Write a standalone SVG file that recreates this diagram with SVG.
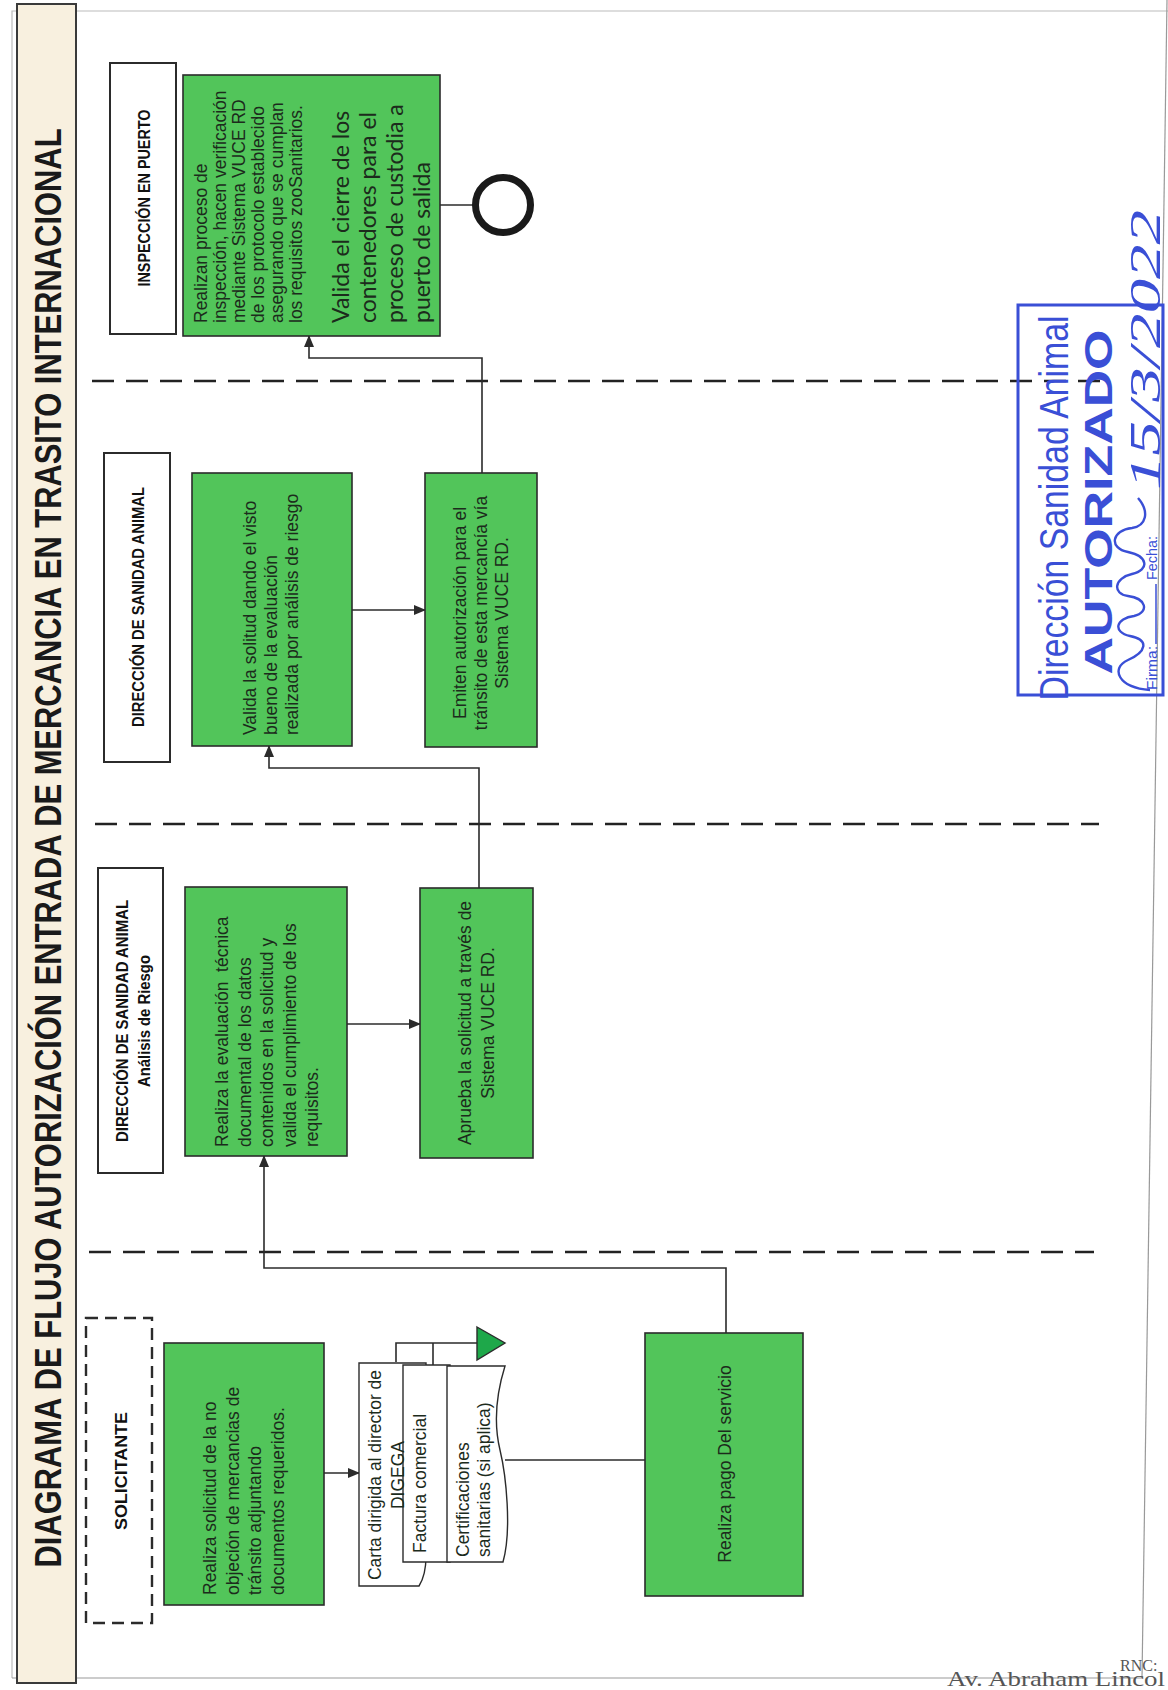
<svg xmlns="http://www.w3.org/2000/svg" width="1168" height="1690" viewBox="0 0 1168 1690">
<defs>
<style>
.box{fill:#52c55a;stroke:#2b2b2b;stroke-width:1.6}
.hdr{fill:#fff;stroke:#2b2b2b;stroke-width:2}
.t{font-family:"Liberation Sans",Arial,sans-serif;font-size:17.5px;fill:#1c2b1c}
.tl{font-family:Lato,"Liberation Sans",sans-serif;font-size:23px;fill:#1c2b1c}
.h{font-family:"Liberation Sans",Arial,sans-serif;font-weight:bold;font-size:17px;fill:#111}
.lane{stroke:#222;stroke-width:2.6;stroke-dasharray:22 12;fill:none}
.c{stroke:#2b2b2b;stroke-width:1.6;fill:none}
.doc{fill:#fff;stroke:#2b2b2b;stroke-width:1.4}
.st{fill:#3a4fd6;font-family:"Liberation Sans",Arial,sans-serif}
</style>
<marker id="ar" viewBox="0 0 12 10" refX="11" refY="5" markerWidth="12" markerHeight="10" markerUnits="userSpaceOnUse" orient="auto">
<path d="M0,0 L12,5 L0,10 Z" fill="#2b2b2b"/>
</marker>
</defs>
<rect width="1168" height="1690" fill="#fff"/>
<!-- page border -->
<polyline points="12,1678 12,11 1168,11" fill="none" stroke="#bbb" stroke-width="1.2"/>
<line x1="1167" y1="0" x2="1142" y2="1678" stroke="#999" stroke-width="1.2"/>
<line x1="12" y1="1678" x2="1142" y2="1678" stroke="#999" stroke-width="1.2"/>

<!-- title bar -->
<g id="title">
<rect x="17" y="4" width="59" height="1679" fill="#f8f0df" stroke="#3a3a3a" stroke-width="2"/>
<text transform="translate(61,848) rotate(-90) scale(1,1.35)" text-anchor="middle" font-family="'Liberation Sans',Arial,sans-serif" font-weight="bold" font-size="27.5" fill="#1a1a1a" textLength="1439" lengthAdjust="spacingAndGlyphs">DIAGRAMA DE FLUJO AUTORIZACIÓN ENTRADA DE MERCANCIA EN TRASITO INTERNACIONAL</text>
</g>

<!-- lane dividers -->
<g id="lanes">
<line class="lane" x1="92" y1="381" x2="1110" y2="381"/>
<line class="lane" x1="95" y1="824" x2="1099" y2="824"/>
<line class="lane" x1="89" y1="1252" x2="1094" y2="1252"/>
</g>

<!-- lane headers -->
<g id="hdr-inspeccion">
<rect class="hdr" x="110" y="63" width="66" height="271"/>
<text class="h" transform="translate(150,198) rotate(-90)" text-anchor="middle" textLength="177" lengthAdjust="spacingAndGlyphs">INSPECCIÓN EN PUERTO</text>
</g>
<g id="hdr-dsa">
<rect class="hdr" x="104" y="453" width="66" height="309"/>
<text class="h" transform="translate(144,607) rotate(-90)" text-anchor="middle" textLength="240" lengthAdjust="spacingAndGlyphs">DIRECCIÓN DE SANIDAD ANIMAL</text>
</g>
<g id="hdr-riesgo">
<rect class="hdr" x="98" y="868" width="65" height="305"/>
<text class="h" transform="translate(128,1021) rotate(-90)" text-anchor="middle" textLength="242" lengthAdjust="spacingAndGlyphs">DIRECCIÓN DE SANIDAD ANIMAL</text>
<text class="h" transform="translate(150,1021) rotate(-90)" text-anchor="middle" textLength="132" lengthAdjust="spacingAndGlyphs">Análisis de Riesgo</text>
</g>
<g id="hdr-solicitante">
<rect x="86" y="1318" width="66" height="305" fill="#fff" stroke="#2b2b2b" stroke-width="2.4" stroke-dasharray="12 7"/>
<text class="h" transform="translate(127,1471) rotate(-90)" text-anchor="middle" textLength="118" lengthAdjust="spacingAndGlyphs">SOLICITANTE</text>
</g>

<!-- connectors -->
<g id="connectors">
<line class="c" x1="324" y1="1473" x2="359" y2="1473" marker-end="url(#ar)"/>
<line class="c" x1="505" y1="1460" x2="645" y2="1460"/>
<polyline class="c" points="726,1333 726,1268 264,1268 264,1156" marker-end="url(#ar)"/>
<line class="c" x1="347" y1="1024" x2="420" y2="1024" marker-end="url(#ar)"/>
<polyline class="c" points="479,888 479,768 269,768 269,746" marker-end="url(#ar)"/>
<line class="c" x1="352" y1="610" x2="425" y2="610" marker-end="url(#ar)"/>
<polyline class="c" points="482,473 482,358 309,358 309,336" marker-end="url(#ar)"/>
<line class="c" x1="440" y1="205" x2="474" y2="205"/>
</g>

<!-- nodes -->
<g id="n-inspeccion">
<rect class="box" x="183" y="75" width="257" height="261"/>
<text class="t" transform="translate(207,323) rotate(-90)"><tspan x="0" y="0">Realizan proceso de</tspan><tspan x="0" dy="19">inspección, hacen verificación</tspan><tspan x="0" dy="19">mediante Sistema VUCE RD</tspan><tspan x="0" dy="19">de los protocolo establecido</tspan><tspan x="0" dy="19">asegurando que se cumplan</tspan><tspan x="0" dy="19">los requisitos zooSanitarios.</tspan></text>
<text class="tl" transform="translate(349,323) rotate(-90)"><tspan x="0" y="0">Valida el cierre de los</tspan><tspan x="0" dy="27">contenedores para el</tspan><tspan x="0" dy="27">proceso de custodia a</tspan><tspan x="0" dy="27">puerto de salida</tspan></text>
</g>
<g id="n-fin">
<circle cx="503" cy="205" r="27.5" fill="#fff" stroke="#1a1a1a" stroke-width="7"/>
</g>
<g id="n-valida">
<rect class="box" x="192" y="473" width="160" height="273"/>
<text class="t" transform="translate(256,735) rotate(-90)"><tspan x="0" y="0">Valida la solitud dando el visto</tspan><tspan x="0" dy="21">bueno de la evaluación</tspan><tspan x="0" dy="21">realizada por análisis de riesgo</tspan></text>
</g>
<g id="n-emiten">
<rect class="box" x="425" y="473" width="112" height="274"/>
<text class="t" transform="translate(466,613) rotate(-90)" text-anchor="middle"><tspan x="0" y="0">Emiten autorización para el</tspan><tspan x="0" dy="21">tránsito de esta mercancía vía</tspan><tspan x="0" dy="21">Sistema VUCE RD.</tspan></text>
</g>
<g id="n-evaluacion">
<rect class="box" x="185" y="887" width="162" height="269"/>
<text class="t" transform="translate(228,1147) rotate(-90)"><tspan x="0" y="0">Realiza la evaluación &#160;técnica</tspan><tspan x="0" dy="22.5">documental de los datos</tspan><tspan x="0" dy="22.5">contenidos en la solicitud y</tspan><tspan x="0" dy="22.5">valida el cumplimiento de los</tspan><tspan x="0" dy="22.5">requisitos.</tspan></text>
</g>
<g id="n-aprueba">
<rect class="box" x="420" y="888" width="113" height="270"/>
<text class="t" transform="translate(471,1023) rotate(-90)" text-anchor="middle"><tspan x="0" y="0">Aprueba la solicitud a través de</tspan><tspan x="0" dy="23">Sistema VUCE RD.</tspan></text>
</g>
<g id="n-solicitud">
<rect class="box" x="164" y="1343" width="160" height="262"/>
<text class="t" transform="translate(216,1595) rotate(-90)"><tspan x="0" y="0">Realiza solicitud de la no</tspan><tspan x="0" dy="22.5">objeción de mercancias de</tspan><tspan x="0" dy="22.5">tránsito adjuntando</tspan><tspan x="0" dy="22.5">documentos requeridos.</tspan></text>
</g>
<g id="n-documentos">
<polyline class="c" points="396,1362 396,1343 478,1343"/>
<line class="c" x1="433" y1="1343" x2="433" y2="1365"/>
<polygon points="477,1327 505,1343 477,1360" fill="#1ea84a" stroke="#2b2b2b" stroke-width="1.4"/>
<path class="doc" d="M359,1363 H426 V1556 Q426,1575 419,1586 H359 Z"/>
<path class="doc" d="M403,1365 H450 V1562 H403 Z"/>
<path class="doc" d="M447,1366 L505,1366 C496,1395 494,1425 500,1450 S512,1530 503,1562 L447,1562 Z"/>
<text class="t" transform="translate(381,1475) rotate(-90)" text-anchor="middle"><tspan x="0" y="0">Carta dirigida al director de</tspan><tspan x="0" dy="23">DIGEGA</tspan></text>
<text class="t" transform="translate(426,1553) rotate(-90)">Factura comercial</text>
<text class="t" transform="translate(469,1557) rotate(-90)"><tspan x="0" y="0">Certificaciones</tspan><tspan x="0" dy="21">sanitarias (si aplica)</tspan></text>
</g>
<g id="n-pago">
<rect class="box" x="645" y="1333" width="158" height="263"/>
<text class="t" transform="translate(731,1464) rotate(-90)" text-anchor="middle">Realiza pago Del servicio</text>
</g>

<!-- stamp -->
<g id="stamp">
<rect x="1018" y="305" width="145" height="390" fill="none" stroke="#3a4fd6" stroke-width="3"/>
<text class="st" transform="translate(1068,508) rotate(-90)" text-anchor="middle" font-size="40" textLength="385" lengthAdjust="spacingAndGlyphs">Dirección Sanidad Animal</text>
<text class="st" transform="translate(1112,502) rotate(-90)" text-anchor="middle" font-size="39" font-weight="bold" textLength="345" lengthAdjust="spacingAndGlyphs">AUTORIZADO</text>
<text class="st" transform="translate(1157,690) rotate(-90)" font-size="14" textLength="44" lengthAdjust="spacingAndGlyphs">Firma:</text>
<text class="st" transform="translate(1157,580) rotate(-90)" font-size="14" textLength="44" lengthAdjust="spacingAndGlyphs">Fecha:</text>
<line x1="1156" y1="644" x2="1156" y2="584" stroke="#3a4fd6" stroke-width="1.5"/>
<path d="M1150,690 C1118,688 1110,668 1128,660 C1146,652 1150,640 1130,636 C1112,632 1116,618 1134,616 C1150,612 1146,598 1128,596 C1112,594 1114,578 1132,574 C1150,570 1148,556 1128,552 C1108,548 1112,530 1132,528 C1146,526 1150,512 1138,498" fill="none" stroke="#3a4fd6" stroke-width="2.4"/>
<text transform="translate(1160,490) rotate(-90)" font-family="'Liberation Serif',serif" font-style="italic" font-size="44" fill="#3a4fd6" textLength="280" lengthAdjust="spacingAndGlyphs">15/3/2022</text>
</g>

<!-- footer -->
<text x="1120" y="1671" font-family="'Liberation Serif',serif" font-size="16" fill="#555">RNC:</text>
<text x="947" y="1686" font-family="'Liberation Serif',serif" font-size="21" fill="#555" textLength="218" lengthAdjust="spacingAndGlyphs">Av. Abraham Lincol</text>
</svg>
